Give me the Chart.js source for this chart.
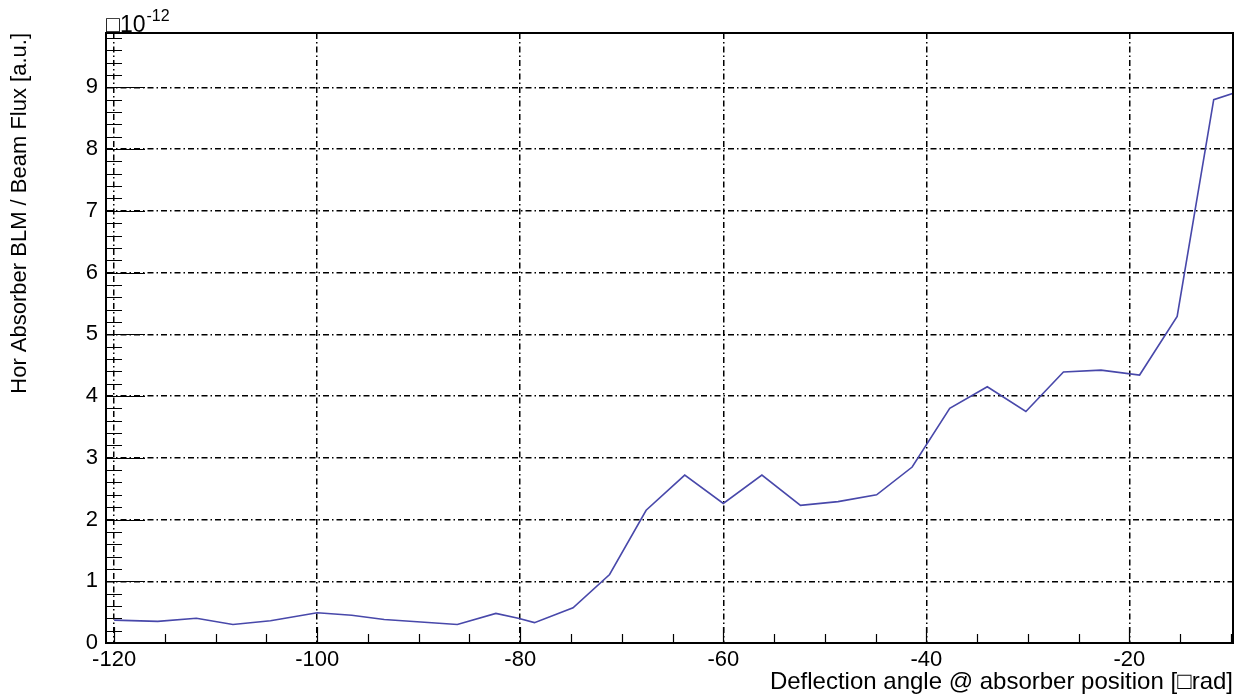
<!DOCTYPE html>
<html>
<head>
<meta charset="utf-8">
<script src="https://cdn.jsdelivr.net/npm/chart.js@4.4.1/dist/chart.umd.min.js"></script>
<style>
  html, body { margin: 0; padding: 0; background: #fff; }
  canvas { display: block; }
</style>
</head>
<body>
<canvas id="blmChart" width="1236" height="699"></canvas>
<script>
// Deflection angle [urad] and normalised BLM signal [x1e-12]
const angles = [-120, -115.7, -111.9, -108.3, -104.6, -100.0, -96.6, -93.4, -89.8, -86.2,
                -82.4, -80.2, -78.6, -74.8, -71.2, -67.6, -63.8, -60.0, -56.2, -52.4,
                -48.7, -44.9, -41.4, -37.7, -34.0, -30.2, -26.5, -22.8, -19.0, -15.3,
                -11.7, -8.0];
const blmValues = [0.37, 0.35, 0.40, 0.30, 0.36, 0.49, 0.45, 0.38, 0.34, 0.30,
                   0.48, 0.40, 0.33, 0.57, 1.11, 2.15, 2.72, 2.26, 2.72, 2.23,
                   2.29, 2.40, 2.85, 3.80, 4.15, 3.75, 4.39, 4.42, 4.34, 5.29,
                   8.80, 9.00];
const xRange = [-120.8, -9.8];
const yRange = [0, 9.88];
const xMajorStep = 20, xMinorStep = 5;
const yMajorStep = 1, yMinorStep = 0.2;

const fontFamily = '"Liberation Sans", Arial, Helvetica, sans-serif';
const gridDash = [6, 3, 1.5, 3];

// ROOT-style frame: inner tick marks, closed box and exponent label
const frameTicks = {
    id: 'frameTicks',
    afterDraw(chart) {
        const ctx = chart.ctx;
        const area = chart.chartArea;
        const xs = chart.scales.x, ys = chart.scales.y;
        ctx.save();
        ctx.strokeStyle = '#000';
        ctx.lineWidth = 1.2;
        ctx.setLineDash([]);
        ctx.beginPath();
        for (let v = -120; v <= xRange[1] + 1e-6; v += xMinorStep) {
            const px = Math.round(xs.getPixelForValue(v)) + 0.5;
            const len = (Math.abs(v % xMajorStep) < 1e-6) ? 16 : 9;
            ctx.moveTo(px, area.bottom);
            ctx.lineTo(px, area.bottom - len);
        }
        const nMinor = Math.floor((yRange[1] - yRange[0]) / yMinorStep + 1e-6);
        for (let i = 0; i <= nMinor; i++) {
            const v = yRange[0] + i * yMinorStep;
            const py = Math.round(ys.getPixelForValue(v)) + 0.5;
            const isMajor = Math.abs(v / yMajorStep - Math.round(v / yMajorStep)) < 1e-6;
            ctx.moveTo(area.left, py);
            ctx.lineTo(area.left + (isMajor ? 39 : 16), py);
        }
        ctx.stroke();
        ctx.lineWidth = 2;
        ctx.strokeRect(area.left, area.top, area.right - area.left, area.bottom - area.top);

        ctx.fillStyle = '#000';
        ctx.textBaseline = 'alphabetic';
        ctx.textAlign = 'left';
        ctx.font = '23px ' + fontFamily;
        const base = '\u25A110';
        ctx.fillText(base, area.left, 32);
        const w = ctx.measureText(base).width;
        ctx.font = '16px ' + fontFamily;
        ctx.fillText('-12', area.left + w + 1, 21);
        ctx.restore();
    }
};

const ctx = document.getElementById('blmChart').getContext('2d');
const blmChart = new Chart(ctx, {
    type: 'line',
    data: {
        datasets: [{
            data: angles.map((a, i) => ({ x: a, y: blmValues[i] })),
            borderColor: '#4848aa',
            borderWidth: 1.6,
            pointRadius: 0,
            fill: false,
            tension: 0
        }]
    },
    options: {
        responsive: false,
        animation: false,
        layout: { padding: { top: 33, right: 3, left: 0, bottom: 0 } },
        plugins: {
            legend: { display: false },
            tooltip: { enabled: false }
        },
        scales: {
            x: {
                type: 'linear',
                min: xRange[0],
                max: xRange[1],
                afterFit: scale => { scale.height = 56; },
                ticks: {
                    stepSize: xMajorStep,
                    includeBounds: false,
                    color: '#000',
                    padding: 4,
                    maxRotation: 0,
                    font: { family: fontFamily, size: 22 }
                },
                grid: { color: '#000', lineWidth: 1.5, drawTicks: false },
                border: { color: '#000', width: 2, dash: gridDash },
                title: {
                    display: true,
                    text: 'Deflection angle @ absorber position [\u25A1rad]',
                    align: 'end',
                    color: '#000',
                    padding: { top: 0, bottom: 2 },
                    font: { family: fontFamily, size: 24 }
                }
            },
            y: {
                min: yRange[0],
                max: yRange[1],
                afterFit: scale => { scale.width = 106; },
                ticks: {
                    stepSize: yMajorStep,
                    includeBounds: false,
                    color: '#000',
                    padding: 8,
                    font: { family: fontFamily, size: 22 }
                },
                grid: { color: '#000', lineWidth: 1.5, drawTicks: false },
                border: { color: '#000', width: 2, dash: gridDash },
                title: {
                    display: true,
                    text: 'Hor Absorber BLM / Beam Flux [a.u.]',
                    align: 'end',
                    color: '#000',
                    padding: { top: 7, bottom: 0 },
                    font: { family: fontFamily, size: 22 }
                }
            }
        }
    },
    plugins: [frameTicks]
});
</script>
</body>
</html>
